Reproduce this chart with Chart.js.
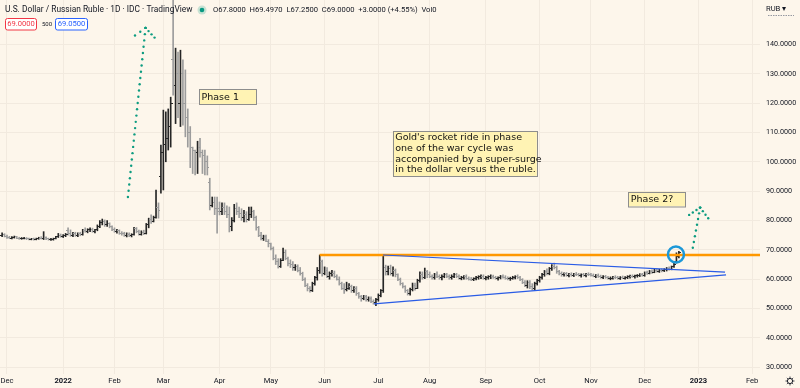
<!DOCTYPE html>
<html>
<head>
<meta charset="utf-8">
<script src="https://cdn.jsdelivr.net/npm/chart.js@4.4.0/dist/chart.umd.min.js"></script>
<style>
  html, body { margin: 0; padding: 0; background: #fdf6eb; }
  #wrap { width: 800px; height: 388px; position: relative; }
</style>
</head>
<body>
<div id="wrap"><canvas id="rubChart"></canvas></div>
<script>
// USD/RUB daily bars, one entry per trading day from 29 Nov 2021 to 21 Dec 2022
const opens = [
  75.0,75.2,74.6,74.3,74.0,74.2,74.4,74.0,73.8,73.9,74.0,73.7,73.6,73.7,73.5,73.8,74.0,73.9,74.2,73.7,73.5,73.6,73.8,74.4,75.0,
  74.6,74.8,76.5,75.5,75.0,75.6,74.9,75.5,75.2,76.6,76.4,76.8,77.0,76.3,76.8,78.0,79.3,79.8,78.6,79.0,77.8,
  77.0,76.3,76.5,75.6,75.5,75.0,75.4,74.8,75.2,77.2,76.2,75.4,76.0,75.6,78.5,80.2,79.8,81.0,84.5,95.0,
  103,106,108,112,135,126,130,120,130,120,115,110,105,104,103,105,103,102,100,93,85,86,84,
  84,83,84.5,83,82,78,80,84,83,82.5,81,82,80.5,82,83,81,77.5,75,74,74.5,73,
  72,70.5,67,66,64.5,66.5,69,67,65.5,65,64,64.5,63,62,60,58,57,56,58.5,60.5,63,66,
  62,63,61,61.8,62,61,60,58.5,57,56.5,57,57.5,56,57,55,54,53.5,54,53,53.5,52.5,52,
  53,54.5,56,64,62.5,63.5,62,63,61.5,60,58.5,57.5,56,55,56.5,58,57,59.5,61.5,60.5,62.5,
  61.5,61,60.5,61.5,61,60.5,61,61.5,61,60.5,61,61.5,60.8,60.3,60.5,60.8,60.2,60,59.9,60.2,60.5,60.8,61,
  60.3,60.5,60.8,61,60.6,60.2,60.5,61,60.7,60.3,60.1,60.4,60.6,60.9,60.5,59.8,59,58,59,57.5,57,58.5,
  59.5,60.5,61.5,62.5,62,63.5,64.5,64,62.5,62,61.5,61.8,61.4,61.6,61.3,61.7,61.5,61.2,61.5,61.3,61.6,
  61.5,61.3,61,61.2,60.9,60.6,60.8,60.5,60.3,60.4,60.7,60.5,60.3,60.6,60.4,60.6,60.9,61,60.8,61.1,61.3,61.5,
  61.2,62.2,62,62.6,62.4,63.1,62.8,63,62.9,63.3,63.6,63.4,64.2,66,67.8
];
const highs = [
  75.8,75.5,75.0,74.6,74.5,74.7,74.6,74.3,74.2,74.3,74.2,74.0,73.9,74.0,74.0,74.3,74.5,76.2,74.4,74.0,73.9,74.0,74.6,75.6,75.4,
  75.2,75.6,77.5,76.8,76.0,76.0,75.8,76.0,77.0,77.5,77.2,77.5,77.4,77.0,78.5,80.0,80.5,80.2,80.0,79.2,78.2,
  77.5,77.0,76.8,76.2,76.0,75.8,75.8,75.5,77.7,77.6,76.7,76.5,76.7,79.0,80.8,81.9,81.5,90.4,86.0,105.7,
  117.6,117,118,122,155,138.7,137.4,138,134.7,131.3,118,112,105,104,107,108,104,104,102,94.4,88,88,88,
  86.3,86,86,85,84.6,81,85.5,86,84.6,84,83.5,83,84.6,84.6,83.5,81.5,78,76,75,75,73.5,
  72.3,71,68.3,67,67,70.6,70,67.5,66.6,66,65,64.9,64,62.4,60.5,58.5,57.5,59,61,64,68.25,66.5,
  64.2,64,62.5,63,62.8,61.5,60.8,59,58.5,59,58.5,58,57.5,57.5,55.5,54.5,54.5,54.5,54,54,53,53.5,
  55,56.5,68.3,64.8,64.5,64.8,64.2,63.5,61.8,60.4,58.8,57.8,56.5,57,58.7,58.7,60,62.5,62.5,63.8,63,
  62.5,61.5,62,62.5,61.5,61.5,62,62,61.5,61.5,62,62,61.5,61,61.2,61.5,60.8,60.6,60.5,61,61.2,61.5,61.5,
  61,61.2,61.5,61.4,61,60.8,61.3,61.5,61.2,60.8,60.7,61,61.2,61.5,61,60.2,59.5,59.5,59.5,58.5,59,60,
  61,62,63,63.5,64,65,65.5,64.5,63,62.5,62.2,62.3,62,62.2,62,62.3,62,61.8,62,62,62.2,
  62,61.8,61.6,61.8,61.4,61.2,61.3,61,60.8,61,61.2,61,60.9,61.1,60.9,61.2,61.4,61.5,61.4,61.6,61.9,62,
  62.5,62.8,63,63.2,63.5,63.5,63.4,63.6,63.6,64,64.2,64.5,65.5,69,69.497
];
const lows = [
  74.5,74.4,73.9,73.8,73.7,74.0,73.8,73.6,73.6,73.7,73.5,73.4,73.4,73.3,73.4,73.6,73.7,73.5,73.5,73.3,73.2,73.3,73.7,74.2,74.3,
  74.2,74.5,75.0,74.6,74.5,74.6,74.5,74.8,75.0,76.0,75.8,76.2,76.0,75.8,76.5,77.6,78.5,78.0,78.0,77.5,76.5,
  76.0,75.7,75.3,75.0,74.6,74.4,74.5,74.4,75.0,75.8,75.0,75.0,75.2,75.4,77.5,79.0,79.5,80.8,80.8,89.3,
  90.4,100,104,105,122.7,113,115,112,112.5,108.5,105,98,96,95.5,96,101.6,96,95.5,95.5,83.6,84.6,82,75.7,
  81.9,82,82,81,76.1,76.5,79.5,82,81,80,79.5,79.5,80,81,80,76.7,74.5,73.4,73.2,72.8,71,
  70,66.6,65,63.8,64,66.3,66.6,64.5,64,63,63,62.5,61.4,59.5,57.5,56,55.6,55.8,58,59.7,62,61,
  61.5,60.5,60,61,60.5,59.7,58,56.5,55.2,56,56.5,55.5,55.5,54.5,53.5,52.5,53,52.5,52.5,52,51.5,51,
  52.5,54,55.5,61.4,61.5,61.4,61,60.8,59.5,58,57,55.5,54.6,54.6,56,56.3,56.8,59,60,60.2,60.5,
  60.5,60,60,60.5,60,59.8,60.5,60.5,60,60,60.5,60.5,60,59.8,60,60,59.7,59.5,59.5,59.8,60,60.2,60,
  59.8,60,60.2,60.3,60,59.7,60.1,60.4,60,59.8,59.6,60,60.1,60.2,59.5,58.5,57.5,57,56.8,56.3,56.3,58,
  59,60,61,61.5,61.5,63,63.5,62,61.5,61,61,61,60.8,61,60.9,61.2,61,60.7,61,60.8,61.2,
  61,60.8,60.5,60.6,60.3,60.2,60.3,60,59.8,60,60.2,60,59.9,60.2,60,60.2,60.4,60.6,60.4,60.7,60.9,61,
  61,61.6,61.8,62,62.2,62.4,62.3,62.5,62.6,62.8,63.1,63.2,64,65.5,67.25
];
const closes = [
  75.2,74.6,74.3,74.0,74.2,74.4,74.0,73.8,73.9,74.0,73.7,73.6,73.7,73.5,73.8,74.0,73.9,74.2,73.7,73.5,73.6,73.8,74.4,75.0,74.6,
  74.8,75.3,75.5,75.0,75.6,74.9,75.5,75.2,76.6,76.4,76.8,77.0,76.3,76.8,78.0,79.3,79.8,78.6,79.0,77.8,77.0,
  76.3,76.5,75.6,75.5,75.0,75.4,74.8,75.2,77.2,76.2,75.4,76.0,75.6,78.5,80.2,79.8,81.0,84.5,83.5,103.0,
  106,108,112,120,126,130,120,130,120,115,110,105,104,103,105,103,102,100,98,85,86,84,83,
  83,84.5,83,82,78,80,84,83,82.5,81,82,80.5,82,83,81,77.5,75,74,74.5,73,72,
  70.5,67,66,64.5,66.5,69,67,65.5,65,64,64.5,63,62,60,58,57,56,58.5,60.5,63,66,62,
  63,61,61.8,62,61,60,58.5,57,56.5,57,57.5,56,57,55,54,53.5,54,53,53.5,52.5,52,53,
  54.5,56,64,62.5,63.5,62,63,61.5,60,58.5,57.5,56,55,56.5,58,57,59.5,61.5,60.5,62.5,61.5,
  61,60.5,61.5,61,60.5,61,61.5,61,60.5,61,61.5,60.8,60.3,60.5,60.8,60.2,60,59.9,60.2,60.5,60.8,61,60.3,
  60.5,60.8,61,60.6,60.2,60.5,61,60.7,60.3,60.1,60.4,60.6,60.9,60.5,59.8,59,58,59,57.5,57,58.5,59.5,
  60.5,61.5,62.5,62,63.5,64.5,64,62.5,62,61.5,61.8,61.4,61.6,61.3,61.7,61.5,61.2,61.5,61.3,61.6,61.5,
  61.3,61,61.2,60.9,60.6,60.8,60.5,60.3,60.4,60.7,60.5,60.3,60.6,60.4,60.6,60.9,61,60.8,61.1,61.3,61.5,61.2,
  62.2,62,62.6,62.4,63.1,62.8,63,62.9,63.3,63.6,63.4,64.2,65,67.8,69.0
];

// time axis: bar index of the first trading day of each month
const monthTicks = [2, 25, 46, 66, 89, 110, 132, 154, 175, 198, 220, 241, 263, 285, 307];
const monthLabels = ['Dec', '2022', 'Feb', 'Mar', 'Apr', 'May', 'Jun', 'Jul', 'Aug', 'Sep', 'Oct', 'Nov', 'Dec', '2023', 'Feb'];
const priceTicks = [30, 40, 50, 60, 70, 80, 90, 100, 110, 120, 130, 140];

// drawings, placed in (bar index, price)
const resistance = { from: 130, price: 68.25 };
const triangleTop = [[155.9, 68.25], [295.9, 62.4]];
const triangleBottom = [[152.2, 51.6], [296.3, 61.5]];
const breakoutCircle = { at: [275.8, 68.4], r: 8 };
const arrows = [
  { tail: [51.5, 88.0], tip: [58.7, 145.6], left: [54.4, 143.0], right: [62.4, 142.3] },
  { tail: [282.7, 70.7], tip: [285.7, 84.4], left: [281.2, 81.9], right: [289.0, 80.75] }
];
const notes = [
  { at: [80.6, 124.7], w: 57, h: 15, lines: ['Phase 1'] },
  { at: [159.9, 110.5], w: 144, h: 45, lines: ["Gold's rocket ride in phase", 'one of the war cycle was', 'accompanied by a super-surge', 'in the dollar versus the ruble.'] },
  { at: [256.3, 89.8], w: 57, h: 14.5, lines: ['Phase 2?'] }
];

const UP = '#262626', DOWN = '#9c9c9c';
const isUp = i => closes[i] >= opens[i];

function tickImg(side, color) {
  const c = document.createElement('canvas');
  c.width = 4; c.height = 1;
  const g = c.getContext('2d');
  g.fillStyle = color;
  g.fillRect(side === 'open' ? 0 : 2, 0, 2, 1);
  return c;
}
const tickImgs = {
  open: { up: tickImg('open', UP), down: tickImg('open', DOWN) },
  close: { up: tickImg('close', UP), down: tickImg('close', DOWN) }
};

const drawings = {
  id: 'drawings',
  afterDatasetsDraw(chart) {
    const { ctx, chartArea: a, scales: { x, y } } = chart;
    const px = p => [x.getPixelForValue(p[0]), y.getPixelForValue(p[1])];
    ctx.save();
    ctx.beginPath();
    ctx.rect(a.left, a.top, a.right - a.left, a.bottom - a.top);
    ctx.clip();

    // resistance line
    ctx.strokeStyle = '#ff9800';
    ctx.lineWidth = 2.5;
    ctx.beginPath();
    ctx.moveTo(x.getPixelForValue(resistance.from), y.getPixelForValue(resistance.price));
    ctx.lineTo(a.right, y.getPixelForValue(resistance.price));
    ctx.stroke();

    // triangle
    ctx.strokeStyle = '#2a5ce6';
    ctx.lineWidth = 1.2;
    [triangleTop, triangleBottom].forEach(seg => {
      const p0 = px(seg[0]), p1 = px(seg[1]);
      ctx.beginPath(); ctx.moveTo(p0[0], p0[1]); ctx.lineTo(p1[0], p1[1]); ctx.stroke();
    });

    // circle
    const c = px(breakoutCircle.at);
    ctx.strokeStyle = '#1c98d8';
    ctx.lineWidth = 2.5;
    ctx.beginPath(); ctx.arc(c[0], c[1], breakoutCircle.r, 0, Math.PI * 2); ctx.stroke();

    // dotted arrows
    ctx.fillStyle = '#0d9c80';
    const dots = (p0, p1, step) => {
      const dx = p1[0] - p0[0], dy = p1[1] - p0[1];
      const n = Math.max(1, Math.round(Math.hypot(dx, dy) / step));
      for (let k = 0; k <= n; k++) {
        ctx.beginPath();
        ctx.arc(p0[0] + dx * k / n, p0[1] + dy * k / n, 1.2, 0, Math.PI * 2);
        ctx.fill();
      }
    };
    arrows.forEach(ar => {
      const t = px(ar.tail), tip = px(ar.tip);
      dots(t, tip, 6.2);
      dots(tip, px(ar.left), 5.2);
      dots(tip, px(ar.right), 5.2);
    });
    ctx.restore();

    // text notes
    ctx.save();
    notes.forEach(n => {
      const p = px(n.at);
      ctx.fillStyle = '#fff3b4';
      ctx.strokeStyle = '#8d8d8d';
      ctx.lineWidth = 1;
      ctx.fillRect(p[0], p[1], n.w, n.h);
      ctx.strokeRect(Math.round(p[0]) + 0.5, Math.round(p[1]) + 0.5, n.w, n.h);
      ctx.fillStyle = '#111';
      ctx.font = '9.5px "DejaVu Sans"';
      ctx.textBaseline = 'middle';
      const lh = n.lines.length > 1 ? 10.8 : 0;
      const top = n.lines.length > 1 ? p[1] + 6.5 : p[1] + n.h / 2 + 0.5;
      n.lines.forEach((s, k) => ctx.fillText(s, p[0] + 2.5, top + k * lh));
    });
    ctx.restore();
  },
  afterDraw(chart) {
    const { ctx } = chart;
    ctx.save();
    ctx.textBaseline = 'middle';
    ctx.fillStyle = '#131722';
    ctx.font = '8.4px Roboto';
    ctx.fillText('U.S. Dollar / Russian Ruble \u00b7 1D \u00b7 IDC \u00b7 TradingView', 5, 10);
    ctx.fillStyle = 'rgba(8,153,129,0.22)';
    ctx.beginPath(); ctx.arc(202, 10, 4.5, 0, Math.PI * 2); ctx.fill();
    ctx.fillStyle = '#089981';
    ctx.beginPath(); ctx.arc(202, 10, 2.3, 0, Math.PI * 2); ctx.fill();
    ctx.fillStyle = '#131722';
    ctx.font = '7.6px Roboto';
    ctx.fillText('O67.8000  H69.4970  L67.2500  C69.0000  +3.0000 (+4.55%)  Vol0', 213, 10);

    // bid / ask boxes
    const box = (x0, w, txt, col) => {
      ctx.fillStyle = '#ffffff';
      ctx.strokeStyle = col;
      ctx.lineWidth = 1;
      ctx.beginPath();
      ctx.roundRect(x0 + 0.5, 18.5, w, 11.5, 2);
      ctx.fill(); ctx.stroke();
      ctx.fillStyle = col;
      ctx.textAlign = 'center';
      ctx.fillText(txt, x0 + 0.5 + w / 2, 24.5);
      ctx.textAlign = 'left';
    };
    box(5, 31, '69.0000', '#f23645');
    ctx.fillStyle = '#131722';
    ctx.font = '6px Roboto';
    ctx.fillText('500', 42, 24.5);
    ctx.font = '7.6px Roboto';
    box(55, 32, '69.0500', '#2962ff');

    // currency label and settings glyph
    ctx.fillStyle = '#131722';
    ctx.fillText('RUB', 766, 9);
    ctx.fillText('\u25be', 782, 9);
    ctx.strokeStyle = '#9598a1';
    ctx.setLineDash([1.5, 1]);
    ctx.beginPath(); ctx.moveTo(768, 15.5); ctx.lineTo(794, 15.5); ctx.stroke();
    ctx.setLineDash([]);
    ctx.strokeStyle = '#131722';
    ctx.lineWidth = 1;
    ctx.beginPath(); ctx.arc(790, 381, 2.6, 0, Math.PI * 2); ctx.stroke();
    for (let k = 0; k < 8; k++) {
      const ang = k * Math.PI / 4;
      ctx.beginPath();
      ctx.moveTo(790 + Math.cos(ang) * 3.2, 381 + Math.sin(ang) * 3.2);
      ctx.lineTo(790 + Math.cos(ang) * 4.4, 381 + Math.sin(ang) * 4.4);
      ctx.stroke();
    }
    ctx.restore();
  }
};

const ctx = document.getElementById('rubChart').getContext('2d');
const rubChart = new Chart(ctx, {
  type: 'bar',
  data: {
    datasets: [
      {
        type: 'bar',
        data: closes.map((c, i) => ({ x: i, y: [lows[i], highs[i]] })),
        backgroundColor: c => isUp(c.dataIndex) ? UP : DOWN,
        barThickness: 1,
        grouped: false,
        borderWidth: 0,
        order: 2
      },
      {
        type: 'line',
        data: opens.map((v, i) => ({ x: i, y: v })),
        showLine: false,
        pointRadius: 1,
        pointHoverRadius: 1,
        pointStyle: c => isUp(c.dataIndex) ? tickImgs.open.up : tickImgs.open.down,
        order: 1
      },
      {
        type: 'line',
        data: closes.map((v, i) => ({ x: i, y: v })),
        showLine: false,
        pointRadius: 1,
        pointHoverRadius: 1,
        pointStyle: c => isUp(c.dataIndex) ? tickImgs.close.up : tickImgs.close.down,
        order: 1
      }
    ]
  },
  options: {
    responsive: true,
    maintainAspectRatio: false,
    animation: false,
    events: [],
    layout: { padding: 0, autoPadding: false },
    plugins: { legend: { display: false }, tooltip: { enabled: false } },
    scales: {
      x: {
        type: 'linear',
        min: -0.86,
        max: 310.2,
        offset: false,
        grid: { color: '#f2eadf', drawTicks: false, offset: false },
        border: { display: false },
        afterBuildTicks: s => { s.ticks = monthTicks.map(v => ({ value: v })); },
        afterFit: s => { s.height = 14; s.paddingLeft = 0; s.paddingRight = 0; },
        ticks: {
          autoSkip: false,
          maxRotation: 0,
          minRotation: 0,
          padding: 3,
          color: '#131722',
          font: c => ({ family: 'Roboto', size: 7.6, weight: /^\d+$/.test(monthLabels[c.index]) ? 'bold' : 'normal' }),
          callback: (v, i) => monthLabels[i]
        }
      },
      y: {
        position: 'right',
        min: 27.72,
        max: 155.1,
        grid: { color: '#f2eadf', drawTicks: false },
        border: { display: false },
        afterBuildTicks: s => { s.ticks = priceTicks.map(v => ({ value: v })); },
        afterFit: s => { s.width = 40; s.paddingTop = 0; s.paddingBottom = 0; },
        ticks: {
          padding: 6,
          color: '#131722',
          font: { family: 'Roboto', size: 7.2 },
          callback: v => v.toFixed(4)
        }
      }
    }
  },
  plugins: [drawings]
});
</script>
</body>
</html>
